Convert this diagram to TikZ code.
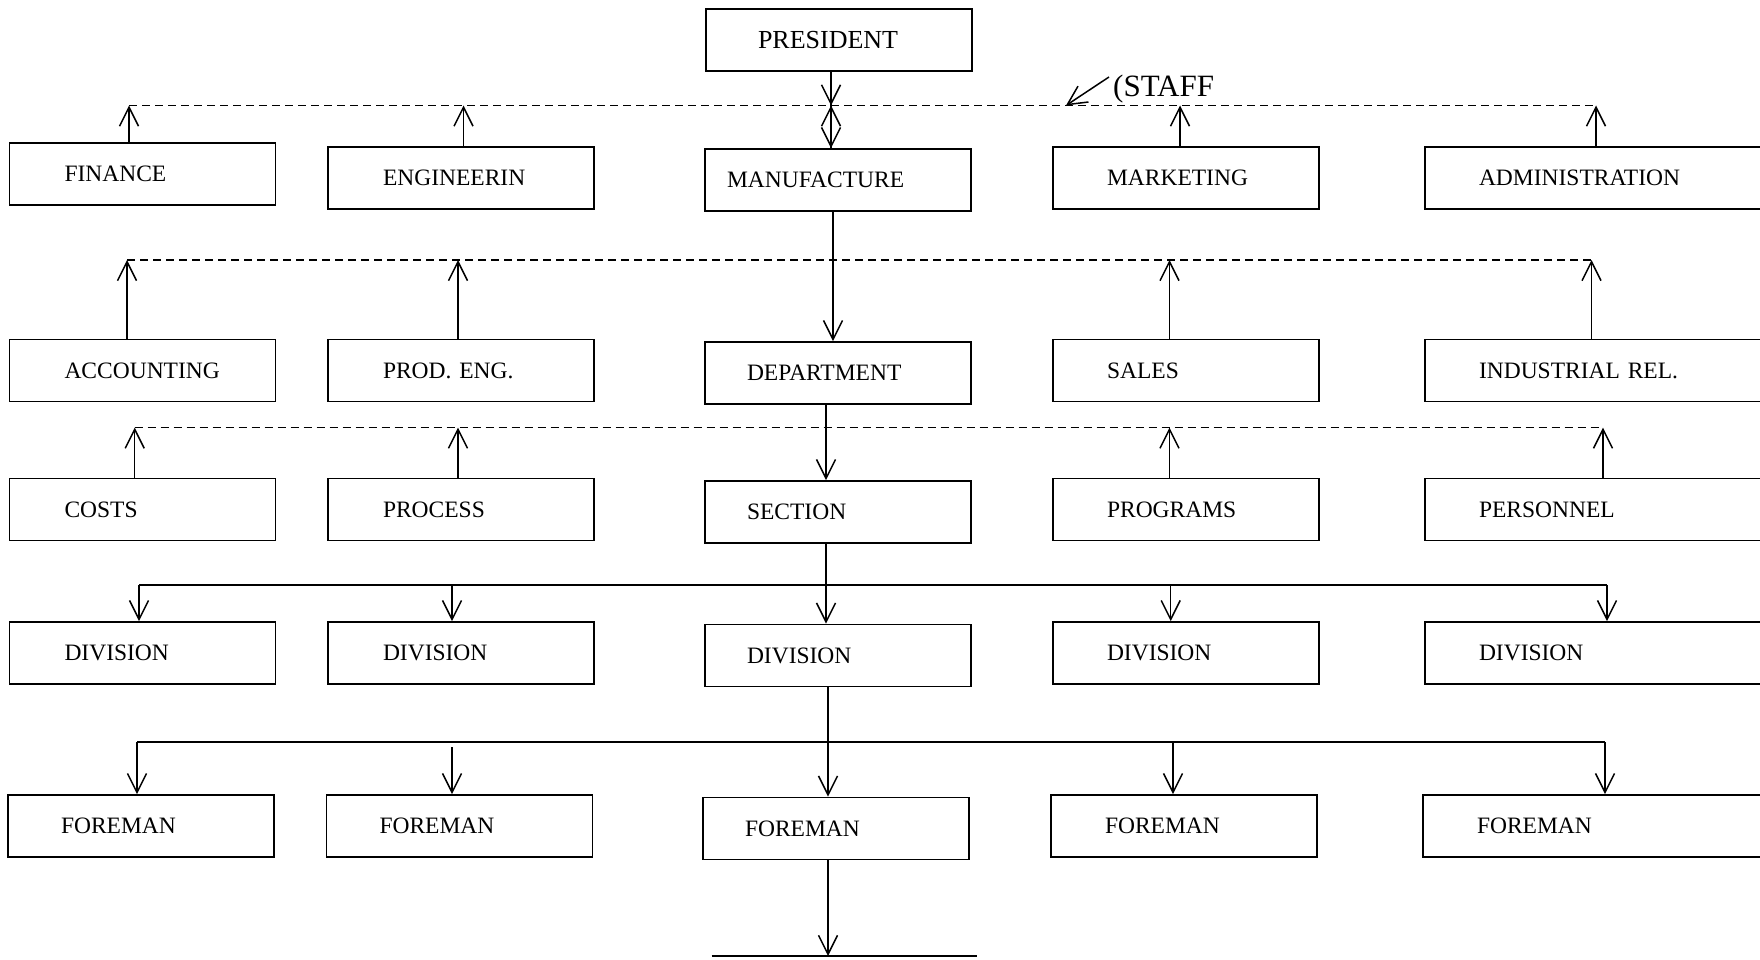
\documentclass[tikz,border=0pt]{standalone}
\usepackage{fontspec}
\setmainfont{Liberation Serif}
\usetikzlibrary{arrows.meta}
\begin{document}
\begin{tikzpicture}[x=1pt, y=-1pt,
  box/.style={draw, line width=1.8pt, inner sep=0pt, minimum height=62pt,
    text width=266pt, align=left, font=\fontsize{23.5}{28}\selectfont},
  widebox/.style={box, text width=360pt},
  conn/.style={line width=1.5pt},
  staffline/.style={conn, line width=1.6pt, dash pattern=on 8pt off 5pt},
  tip/.style={conn, -{Straight Barb[length=19pt, width=19pt, line width=1.5pt]}},
]
\useasboundingbox (0,0) rectangle (1760,960);

% top executive
\node[box, font=\fontsize{26}{30}\selectfont] (pres) at (839,40) {\hspace*{52pt}PRESIDENT};

% staff departments
\node[box] (fin)   at (142.5,174) {\hspace*{55pt}FINANCE};
\node[box] (eng)   at (461,178)   {\hspace*{55pt}ENGINEERIN};
\node[box] (manu)  at (838,180)   {\hspace*{22pt}MANUFACTURE};
\node[box] (mkt)   at (1186,178)  {\hspace*{54pt}MARKETING};
\node[widebox] (adm) at (1605,178) {\hspace*{54pt}ADMINISTRATION};

\node[box] (acc)   at (142.5,370.5) {\hspace*{55pt}ACCOUNTING};
\node[box] (peng)  at (461,370.5)   {\hspace*{55pt}PROD. ENG.};
\node[box] (dept)  at (838,373)     {\hspace*{42pt}DEPARTMENT};
\node[box] (sales) at (1186,370.5)  {\hspace*{54pt}SALES};
\node[widebox] (ind) at (1605,370.5) {\hspace*{54pt}INDUSTRIAL REL.};

\node[box] (cost)  at (142.5,509.5) {\hspace*{55pt}COSTS};
\node[box] (proc)  at (461,509.5)   {\hspace*{55pt}PROCESS};
\node[box] (sect)  at (838,512)     {\hspace*{42pt}SECTION};
\node[box] (prog)  at (1186,509.5)  {\hspace*{54pt}PROGRAMS};
\node[widebox] (pers) at (1605,509.5) {\hspace*{54pt}PERSONNEL};

% line divisions
\node[box] (div1) at (142.5,653)  {\hspace*{55pt}DIVISION};
\node[box] (div2) at (461,653)    {\hspace*{55pt}DIVISION};
\node[box] (div3) at (838,655.5)  {\hspace*{42pt}DIVISION};
\node[box] (div4) at (1186,653)   {\hspace*{54pt}DIVISION};
\node[widebox] (div5) at (1605,653) {\hspace*{54pt}DIVISION};

\node[box] (fm1) at (141,826)    {\hspace*{53pt}FOREMAN};
\node[box] (fm2) at (459.5,826)  {\hspace*{53pt}FOREMAN};
\node[box] (fm3) at (836,828.5)  {\hspace*{42pt}FOREMAN};
\node[box] (fm4) at (1184,826)   {\hspace*{54pt}FOREMAN};
\node[widebox] (fm5) at (1603,826) {\hspace*{54pt}FOREMAN};

% staff buses (dashed)
\coordinate (a1) at (129,105.5);  \coordinate (a2) at (463.5,105.5);
\coordinate (a3) at (831,105.5);  \coordinate (a4) at (1180,105.5);
\coordinate (a5) at (1596,105.5); \coordinate (sarr) at (1066,105.5);
\coordinate (b1) at (127,260);    \coordinate (b2) at (458,260);
\coordinate (b4) at (1169.5,260); \coordinate (b5) at (1591.5,260);
\coordinate (c1) at (134.7,427.6); \coordinate (c2) at (458,427.6);
\coordinate (c4) at (1169.5,427.6); \coordinate (c5) at (1603,427.6);

\draw[staffline] (a1) -- (a5);
\draw[staffline] (b1) -- (b5);
\draw[staffline] (c1) -- (c5);

\foreach \n/\c in {fin/a1, eng/a2, mkt/a4, adm/a5,
                   acc/b1, peng/b2, sales/b4, ind/b5,
                   cost/c1, proc/c2, prog/c4, pers/c5}
  \draw[tip] (\n.north -| \c) -- (\c);

% staff label
\node[font=\fontsize{31}{35}\selectfont, anchor=west, inner sep=0pt] (staff) at (1113,89) {(STAFF};
\coordinate (sfrom) at (1109,77);
\draw[tip] (sfrom) -- (sarr);

% line of command through the centre column
\draw[tip] (pres.south -| a3) -- (a3);
\draw[tip] (manu.north -| a3) -- (a3);
\draw[tip] (pres.south -| a3) -- (manu.north -| a3);
\draw[tip] (manu.south -| 833,0) -- (dept.north -| 833,0);
\draw[tip] (dept.south -| 826,0) -- (sect.north -| 826,0);

% division bus
\coordinate (d1) at (139,584.8);  \coordinate (d2) at (452,584.8);
\coordinate (d3) at (826,584.8);  \coordinate (d4) at (1170.7,584.8);
\coordinate (d5) at (1607,584.8);
\draw[conn] (d1) -- (d5);
\draw[conn] (sect.south -| d3) -- (d3);
\foreach \n/\c in {div1/d1, div2/d2, div3/d3, div4/d4, div5/d5}
  \draw[tip] (\c) -- (\n.north -| \c);

% foreman bus
\coordinate (e1) at (137,742);   \coordinate (e2) at (452,747);
\coordinate (e3) at (828,742);   \coordinate (e4) at (1173,742);
\coordinate (e5) at (1605,742);
\draw[conn] (e1) -- (e5);
\draw[conn] (div3.south -| e3) -- (e3);
\foreach \n/\c in {fm1/e1, fm2/e2, fm3/e3, fm4/e4, fm5/e5}
  \draw[tip] (\c) -- (\n.north -| \c);

% continuation below the centre foreman
\coordinate (gl) at (711.6,956);
\coordinate (gr) at (976.5,956);
\coordinate (g)  at (828,956);
\draw[tip] (fm3.south -| g) -- (g);
\draw[conn] (gl) -- (gr);
\end{tikzpicture}
\end{document}
